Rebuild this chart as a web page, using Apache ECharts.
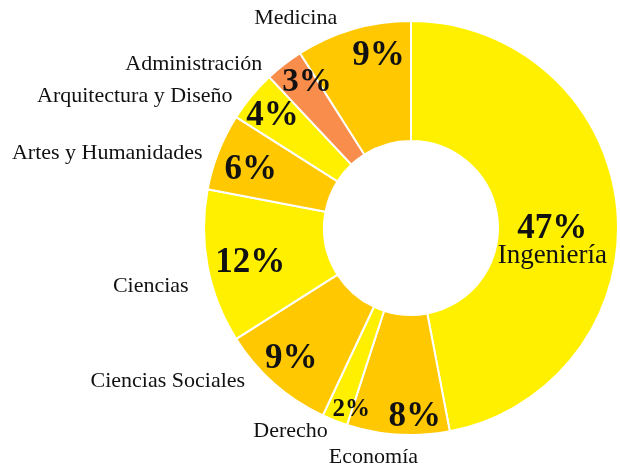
<!DOCTYPE html>
<html>
<head>
<meta charset="utf-8">
<script src="https://cdn.jsdelivr.net/npm/echarts@6/dist/echarts.min.js"></script>
<style>
  html, body { margin: 0; padding: 0; background: #fff; }
  #chart { width: 620px; height: 464px; }
</style>
</head>
<body>
<div id="chart"></div>
<script>
// áreas, en sentido horario desde las 12
const categories = ['Ingeniería', 'Economía', 'Derecho', 'Ciencias Sociales', 'Ciencias',
  'Artes y Humanidades', 'Arquitectura y Diseño', 'Administración', 'Medicina']
const shares = [47, 8, 2, 9, 12, 6, 4, 3, 9]

const YELLOW = '#FFF000'
const GOLD = '#FFC800'
const ORANGE = '#F98D4B'
const sliceColors = [YELLOW, GOLD, YELLOW, GOLD, YELLOW, GOLD, YELLOW, ORANGE, GOLD]

// ajustes finos de etiquetas (px)
const nameNudge = {
  'Medicina': [3, -11],
  'Administración': [-3, 0],
  'Artes y Humanidades': [3, 1],
  'Ciencias': [0, 19],
  'Ciencias Sociales': [-10, -2],
  'Derecho': [12, 11],
  'Economía': [39, 23]
}
const pctNudge = {
  'Medicina': [18, 2],
  'Administración': [7, -3],
  'Arquitectura y Diseño': [1, 3],
  'Artes y Humanidades': [8, 9],
  'Ciencias': [17, 1],
  'Ciencias Sociales': [0, -5],
  'Derecho': [7, 13],
  'Economía': [15, 8]
}
const pctSize = { 'Derecho': 25, 'Administración': 33 }

const SERIF = '"Liberation Serif", "DejaVu Serif", serif'
const CENTER = [411, 228]

const chart = echarts.init(document.getElementById('chart'))

const nudge = table => p => {
  const n = table[categories[p.dataIndex]]
  return { dx: n ? n[0] : 0, dy: n ? n[1] : 0, hideOverlap: false, moveOverlap: null }
}

const option = {
  backgroundColor: '#fff',
  animation: false,
  series: [
    {
      // anillo visible + nombres fuera
      type: 'pie',
      center: CENTER,
      radius: [87, 207],
      startAngle: 90,
      avoidLabelOverlap: false,
      silent: true,
      itemStyle: { borderColor: '#fff', borderWidth: 2 },
      label: {
        show: true,
        position: 'outside',
        formatter: '{b}',
        fontFamily: SERIF,
        fontSize: 22,
        color: '#111',
        distanceToLabelLine: 5
      },
      labelLine: { show: false, length: 0, length2: 14 },
      labelLayout: nudge(nameNudge),
      data: categories.map((name, i) => ({
        name,
        value: shares[i],
        itemStyle: { color: sliceColors[i] },
        label: { show: i !== 0 }
      }))
    },
    {
      // porcentajes dentro
      type: 'pie',
      center: CENTER,
      radius: [149, 207],
      startAngle: 90,
      avoidLabelOverlap: false,
      silent: true,
      itemStyle: { color: 'transparent', borderWidth: 0 },
      label: {
        show: true,
        position: 'inside',
        formatter: '{c}%',
        fontFamily: SERIF,
        fontWeight: 'bold',
        fontSize: 35,
        color: '#111'
      },
      labelLine: { show: false },
      labelLayout: nudge(pctNudge),
      data: categories.map((name, i) => ({
        name,
        value: shares[i],
        label: { show: i !== 0, fontSize: pctSize[name] || 35 }
      }))
    },
    {
      // Ingeniería: porcentaje + nombre
      type: 'pie',
      center: CENTER,
      radius: [87, 193],
      startAngle: 90,
      avoidLabelOverlap: false,
      silent: true,
      itemStyle: { color: 'transparent', borderWidth: 0 },
      label: {
        show: true,
        position: 'inside',
        formatter: p => `{p|${p.value}%}\n{n|${p.name}}`,
        rich: {
          p: { fontFamily: SERIF, fontWeight: 'bold', fontSize: 35, color: '#111', lineHeight: 28 },
          n: { fontFamily: SERIF, fontSize: 27, color: '#111', lineHeight: 26 }
        }
      },
      labelLine: { show: false },
      labelLayout: p => (p.dataIndex === 0 ? { dx: -1, dy: 27 } : {}),
      data: categories.map((name, i) => ({
        name,
        value: shares[i],
        label: { show: i === 0 }
      }))
    }
  ]
}

chart.setOption(option)
</script>
</body>
</html>
